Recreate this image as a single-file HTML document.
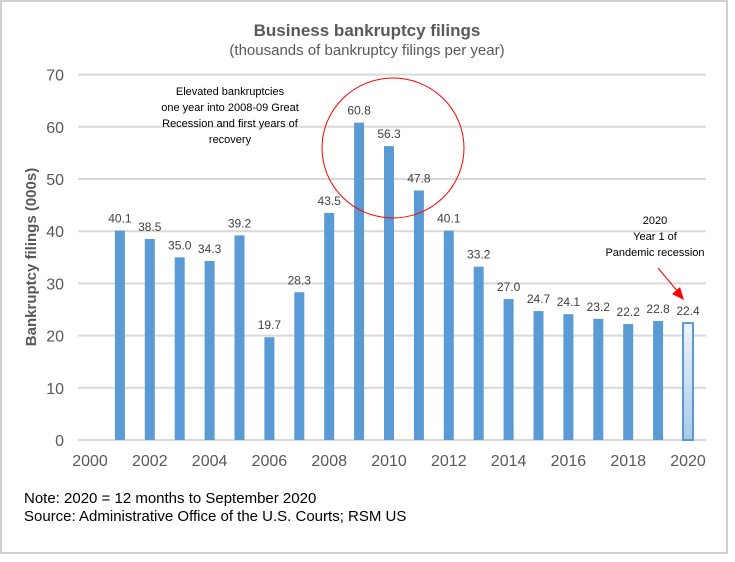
<!DOCTYPE html>
<html><head><meta charset="utf-8"><style>
body{margin:0;background:#fff;font-family:"Liberation Sans",sans-serif}
svg text{font-family:"Liberation Sans",sans-serif}
</style></head><body>
<svg width="735" height="557" viewBox="0 0 735 557" xmlns="http://www.w3.org/2000/svg">
<defs><linearGradient id="g2020" x1="0" y1="0" x2="0" y2="1"><stop offset="0" stop-color="#eef4fb"/><stop offset="1" stop-color="#a9c8e8"/></linearGradient></defs>
<rect x="1" y="1" width="726" height="552" fill="#fff" stroke="#d0d0d0" stroke-width="2"/>
<text x="367" y="36" text-anchor="middle" font-size="17" font-weight="bold" fill="#595959">Business bankruptcy filings</text>
<text x="367" y="55" text-anchor="middle" font-size="15" fill="#595959">(thousands of bankruptcy filings per year)</text>
<text transform="translate(36,257) rotate(-90)" text-anchor="middle" font-size="15" font-weight="bold" fill="#595959">Bankruptcy filings (000s)</text>
<g id="grid"></g><g id="bars"></g><g id="labels"></g>
<text x="655" y="224" text-anchor="middle" font-size="11" fill="#000"><tspan x="655">2020</tspan><tspan x="655" dy="16">Year 1 of</tspan><tspan x="655" dy="16">Pandemic recession</tspan></text>
<line x1="658" y1="268" x2="679" y2="293" stroke="#ff0000" stroke-width="1"/>
<polygon points="684,300 672,294 680,287" fill="#ff0000"/>
<text x="230" y="95" text-anchor="middle" font-size="11" fill="#000"><tspan x="230">Elevated bankruptcies</tspan><tspan x="230" dy="16">one year into 2008-09 Great</tspan><tspan x="230" dy="16">Recession and first years of</tspan><tspan x="230" dy="16">recovery</tspan></text>
<ellipse cx="393" cy="148" rx="71" ry="70" fill="none" stroke="#ff0000" stroke-width="1"/>
<text x="24" y="503" font-size="15" fill="#000">Note: 2020 = 12 months to September 2020</text>
<text x="24" y="521" font-size="15" fill="#000">Source:  Administrative Office of the U.S. Courts; RSM US</text>
</svg>
<script>
const years=[2001,2002,2003,2004,2005,2006,2007,2008,2009,2010,2011,2012,2013,2014,2015,2016,2017,2018,2019,2020];
const values=[40.1,38.5,35.0,34.3,39.2,19.7,28.3,43.5,60.8,56.3,47.8,40.1,33.2,27.0,24.7,24.1,23.2,22.2,22.8,22.4];
const yTicks=[0,10,20,30,40,50,60,70];
const xTicks=[2000,2002,2004,2006,2008,2010,2012,2014,2016,2018,2020];
const NS="http://www.w3.org/2000/svg";
const X=v=>90+(v-2000)*29.9, Y=v=>440-v*5.22;
function mk(t,a,p){const e=document.createElementNS(NS,t);for(const k in a)e.setAttribute(k,a[k]);p.appendChild(e);return e;}
const grid=document.getElementById('grid'),bars=document.getElementById('bars'),labels=document.getElementById('labels');
yTicks.forEach(v=>{
 const l=mk('line',{x1:78,x2:706,y1:Y(v),y2:Y(v),stroke:'#d9d9d9','stroke-width':2},grid);
 
 
 const t=mk('text',{x:64,y:Y(v)+6,'text-anchor':'end','font-size':16,fill:'#595959'},grid);t.textContent=v;
 
 
});
xTicks.forEach(v=>{
 const t=mk('text',{x:X(v),y:466,'text-anchor':'middle','font-size':16,fill:'#595959'},grid);t.textContent=v;
 
 
});
years.forEach((yr,i)=>{
 const v=values[i],last=yr===2020;
 const r=mk('rect',{x:X(yr)-5,y:Y(v),width:10,height:Y(0)-Y(v),fill:last?'url(#g2020)':'#5b9bd5',stroke:last?'#5b9bd5':'none','stroke-width':last?2:0},bars);
 
 
 const t=mk('text',{x:X(yr),y:Y(v)-8,'text-anchor':'middle','font-size':12,fill:'#404040'},labels);t.textContent=v.toFixed(1);
 
 
});
</script>
</body></html>
